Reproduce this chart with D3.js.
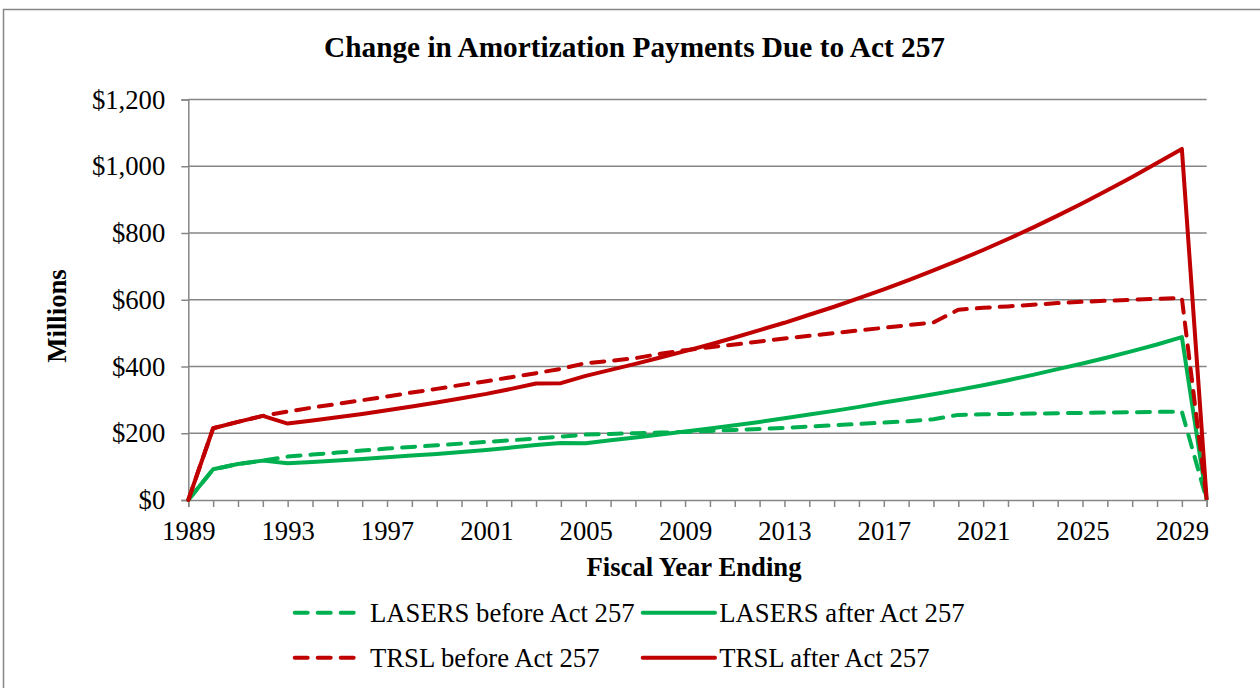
<!DOCTYPE html>
<html>
<head>
<meta charset="utf-8">
<script src="https://cdn.jsdelivr.net/npm/d3@7/dist/d3.min.js"></script>
<title>Change in Amortization Payments Due to Act 257</title>
<style>
  body { margin: 0; background: #fff; }
  svg { display: block; font-family: "Liberation Serif", "Times New Roman", serif; }
</style>
</head>
<body>
<div id="chart"></div>
<script>
// fiscal years 1989 .. 2030
const years = [1989, 1990, 1991, 1992, 1993, 1994, 1995, 1996, 1997, 1998,
  1999, 2000, 2001, 2002, 2003, 2004, 2005, 2006, 2007, 2008,
  2009, 2010, 2011, 2012, 2013, 2014, 2015, 2016, 2017, 2018,
  2019, 2020, 2021, 2022, 2023, 2024, 2025, 2026, 2027, 2028,
  2029, 2030];

// payments in $ millions
const lasersBefore = [0, 92, 108, 118, 130, 136, 142, 148, 154, 159,
  164, 169, 174, 179, 184, 190, 196, 198, 200, 202,
  204, 207, 210, 213, 216, 220, 224, 228, 232, 236,
  242, 255, 257, 258, 259, 260, 261, 262, 263, 264,
  265, 0];

const lasersAfter = [0, 92, 108, 118, 110, 114, 118, 123, 128, 133,
  138, 144, 150, 157, 165, 171, 170, 179, 187, 196,
  205, 214, 224, 234, 245, 256, 267, 279, 292, 304,
  317, 330, 344, 359, 375, 392, 409, 427, 446, 466,
  488, 0];

const trslBefore = [0, 215, 234, 252, 265, 277, 288, 299, 310, 322,
  333, 345, 356, 368, 380, 393, 410, 417, 425, 438,
  449, 458, 466, 475, 484, 492, 500, 508, 516, 524,
  532, 570, 576, 580, 585, 590, 594, 597, 600, 603,
  605, 0];

const trslAfter = [0, 215, 234, 252, 229, 238, 248, 258, 269, 280,
  292, 305, 318, 333, 349, 350, 372, 390, 408, 427,
  446, 466, 487, 509, 531, 555, 579, 605, 631, 659,
  688, 718, 749, 782, 816, 852, 889, 928, 968, 1010,
  1052, 0];

const yTicks = [0, 200, 400, 600, 800, 1000, 1200];
const xLabelYears = [1989, 1993, 1997, 2001, 2005, 2009, 2013, 2017, 2021, 2025, 2029];

const seriesNames = ["LASERS before Act 257", "LASERS after Act 257",
  "TRSL before Act 257", "TRSL after Act 257"];

const series = [
  { name: seriesNames[0], values: lasersBefore, color: "#00B050", dashed: true },
  { name: seriesNames[1], values: lasersAfter, color: "#00B050", dashed: false },
  { name: seriesNames[2], values: trslBefore, color: "#C00000", dashed: true },
  { name: seriesNames[3], values: trslAfter, color: "#C00000", dashed: false }
];

const width = 1260, height = 688;
const plotLeft = 188.3, plotRight = 1206.7, plotTop = 99.5, plotBottom = 500;
const gray = "#868686";
const dash = "13 10";

const svg = d3.select("#chart").append("svg")
  .attr("width", width)
  .attr("height", height);

// outer chart frame
svg.append("rect")
  .attr("x", 3.5).attr("y", 9.5)
  .attr("width", 1300).attr("height", 720)
  .attr("fill", "none")
  .attr("stroke", gray)
  .attr("stroke-width", 1.5);

const x = d3.scaleLinear().domain([1989, 2030]).range([plotLeft, plotRight]);
const y = d3.scaleLinear().domain([0, 1200]).range([plotBottom, plotTop]);

// gridlines
svg.append("g")
  .selectAll("line")
  .data(yTicks.filter(d => d > 0))
  .enter().append("line")
  .attr("x1", plotLeft).attr("x2", plotRight)
  .attr("y1", d => y(d)).attr("y2", d => y(d))
  .attr("stroke", gray)
  .attr("stroke-width", 1.5);

// y axis
const yAxis = svg.append("g")
  .attr("transform", `translate(${plotLeft},0)`)
  .call(d3.axisLeft(y).tickValues(yTicks).tickSize(7).tickPadding(16)
    .tickFormat(d => "$" + d3.format(",")(d)));
yAxis.select(".domain").attr("stroke", gray).attr("stroke-width", 1.5);
yAxis.selectAll(".tick line").attr("stroke", gray).attr("stroke-width", 1.5);
yAxis.selectAll(".tick text")
  .attr("font-size", "26.7px").attr("fill", "#000")
  .attr("font-family", "Liberation Serif, Times New Roman, serif");

// x axis
const xAxis = svg.append("g")
  .attr("transform", `translate(0,${plotBottom})`)
  .call(d3.axisBottom(x).tickValues(years).tickSize(7).tickPadding(14)
    .tickFormat(d => xLabelYears.includes(d) ? d : ""));
xAxis.select(".domain").attr("stroke", gray).attr("stroke-width", 1.5);
xAxis.selectAll(".tick line").attr("stroke", gray).attr("stroke-width", 1.5);
xAxis.selectAll(".tick text")
  .attr("font-size", "26.7px").attr("fill", "#000")
  .attr("font-family", "Liberation Serif, Times New Roman, serif");

// lines
const line = d3.line()
  .x((d, i) => x(years[i]))
  .y(d => y(d));

svg.append("g")
  .selectAll("path")
  .data(series)
  .enter().append("path")
  .attr("d", d => line(d.values))
  .attr("fill", "none")
  .attr("stroke", d => d.color)
  .attr("stroke-width", 4)
  .attr("stroke-linejoin", "round")
  .attr("stroke-linecap", d => d.dashed ? "round" : "butt")
  .attr("stroke-dasharray", d => d.dashed ? dash : null);

// title and axis titles
svg.append("text")
  .attr("x", 634.5).attr("y", 57)
  .attr("text-anchor", "middle")
  .attr("font-size", "29.3px").attr("font-weight", "bold")
  .text("Change in Amortization Payments Due to Act 257");

svg.append("text")
  .attr("x", 694).attr("y", 576)
  .attr("text-anchor", "middle")
  .attr("font-size", "26.7px").attr("font-weight", "bold")
  .text("Fiscal Year Ending");

svg.append("text")
  .attr("transform", "translate(66,316) rotate(-90)")
  .attr("text-anchor", "middle")
  .attr("font-size", "26.7px").attr("font-weight", "bold")
  .text("Millions");

// legend, two rows of two
const legendPos = [
  { sx: 292.7, ex: 357.3, tx: 370, cy: 612.7 },
  { sx: 642.7, ex: 715, tx: 719.3, cy: 612.7 },
  { sx: 292.7, ex: 357.3, tx: 370, cy: 657.7 },
  { sx: 642.7, ex: 715, tx: 719.3, cy: 657.7 }
];

const legend = svg.append("g").attr("id", "legend");
series.forEach((s, i) => {
  const p = legendPos[i];
  legend.append("line")
    .attr("x1", s.dashed ? p.sx + 2 : p.sx).attr("x2", s.dashed ? p.ex - 2 : p.ex)
    .attr("y1", p.cy).attr("y2", p.cy)
    .attr("stroke", s.color)
    .attr("stroke-width", 4)
    .attr("stroke-linecap", "round")
    .attr("stroke-dasharray", s.dashed ? dash : null);
  legend.append("text")
    .attr("x", p.tx).attr("y", p.cy + 9)
    .attr("font-size", "26.7px")
    .text(s.name);
});
</script>
</body>
</html>
